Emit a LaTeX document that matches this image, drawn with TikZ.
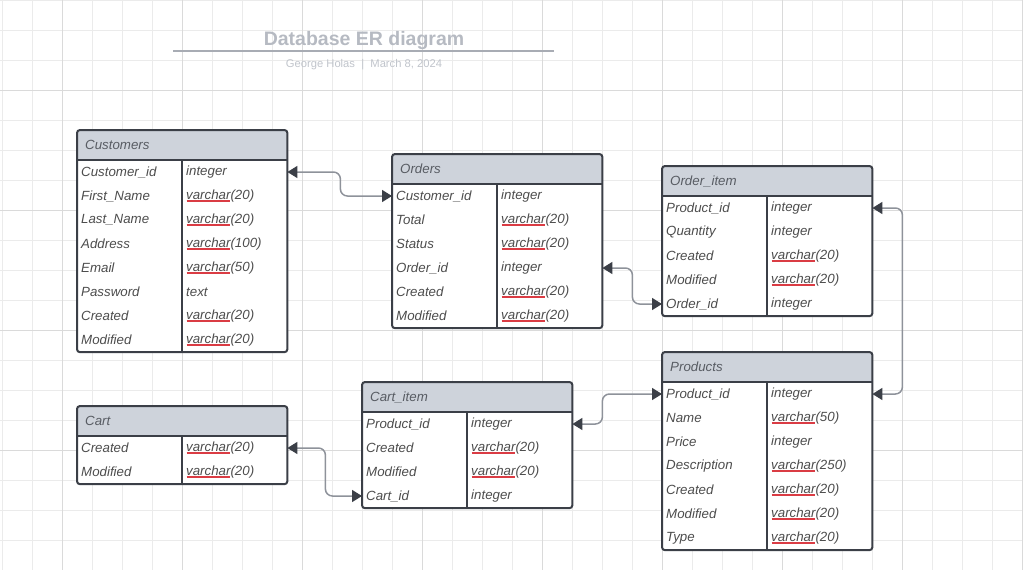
\documentclass[tikz,border=0pt]{standalone}
\usepackage{fontspec}
\setmainfont{Liberation Sans}
\usepackage{tikz}
\usetikzlibrary{arrows.meta,fit}

\definecolor{gridminor}{HTML}{EBEBEB}
\definecolor{gridmajor}{HTML}{DADADA}
\definecolor{headfill}{HTML}{CED3DB}
\definecolor{edgec}{HTML}{3B3F47}
\definecolor{txtc}{HTML}{4D4D4D}
\definecolor{headtxt}{HTML}{585C63}
\definecolor{linkc}{HTML}{8E929A}
\definecolor{squig}{RGB}{218,60,68}
\definecolor{titlec}{HTML}{B6BAC2}
\definecolor{subc}{HTML}{C0C4CB}
\definecolor{rulec}{HTML}{A8ACB4}

\begin{document}
\begin{tikzpicture}[x=1pt,y=-1pt,
	minor/.style={draw=gridminor,line width=1pt},
	major/.style={draw=gridmajor,line width=1pt},
	head/.style={anchor=north west,fill=headfill,minimum height=30pt,text width=194pt,inner xsep=8pt,inner ysep=0pt,align=left,text=headtxt,font=\fontsize{13.3}{16}\selectfont\itshape},
	field/.style={anchor=west,fill=white,minimum height=24pt,text width=97pt,inner xsep=4pt,inner ysep=0pt,align=left,text=txtc,font=\fontsize{13.3}{16}\selectfont\itshape},
	ftype/.style={field},
	vc/.style={field,path picture={\draw[draw=squig,line width=1.5pt] ([xshift=4.5pt,yshift=-5pt]path picture bounding box.west) -- ++(43.5pt,0pt);}},
	frame/.style={draw=edgec,line width=2pt,rounded corners=3pt,inner sep=0pt},
	edge/.style={draw=edgec,line width=2pt},
	link/.style={draw=linkc,line width=1.5pt,rounded corners=7pt,
		{Triangle[length=10pt,width=12pt,color=edgec]}-{Triangle[length=10pt,width=12pt,color=edgec]}}]

	\useasboundingbox (0,0) rectangle (1023,570);
	\foreach \x in {2,32,...,1022} \draw[minor] (\x,0) -- (\x,570);
	\foreach \y in {0,30,...,570} \draw[minor] (0,\y) -- (1023,\y);
	\foreach \x in {62,182,...,1022} \draw[major] (\x,0) -- (\x,570);
	\foreach \y in {90,210,...,570} \draw[major] (0,\y) -- (1023,\y);

	\node[text=titlec,font=\fontsize{19.5}{22}\selectfont\bfseries] (title) at (364,41) {Database ER diagram};
	\draw[rulec,line width=1.5pt] (173,51) -- (554,51);
	\node[text=subc,font=\fontsize{11.2}{13}\selectfont] (subtitle) at (364,65) {George Holas \ | \ March 8, 2024};

	% Customers
	\node[head] (cust) at (77,130) {Customers};
	\node[field] (cust-r1) at (77,172) {Customer\_id};
	\node[ftype] (cust-t1) at (182,172) {integer};
	\node[field] (cust-r2) at (77,196) {First\_Name};
	\node[vc] (cust-t2) at (182,196) {varchar(20)};
	\node[field] (cust-r3) at (77,220) {Last\_Name};
	\node[vc] (cust-t3) at (182,220) {varchar(20)};
	\node[field] (cust-r4) at (77,244) {Address};
	\node[vc] (cust-t4) at (182,244) {varchar(100)};
	\node[field] (cust-r5) at (77,268) {Email};
	\node[vc] (cust-t5) at (182,268) {varchar(50)};
	\node[field] (cust-r6) at (77,292) {Password};
	\node[ftype] (cust-t6) at (182,292) {text};
	\node[field] (cust-r7) at (77,316) {Created};
	\node[vc] (cust-t7) at (182,316) {varchar(20)};
	\node[field] (cust-r8) at (77,340) {Modified};
	\node[vc] (cust-t8) at (182,340) {varchar(20)};
	\draw[edge] (cust.south west) -- (cust.south east);
	\draw[edge] (cust-r1.north east) -- (cust-r8.south east);
	\node[frame,fit=(cust)(cust-t8)] (cust-box) {};

	% Orders
	\node[head] (ord) at (392,154) {Orders};
	\node[field] (ord-r1) at (392,196) {Customer\_id};
	\node[ftype] (ord-t1) at (497,196) {integer};
	\node[field] (ord-r2) at (392,220) {Total};
	\node[vc] (ord-t2) at (497,220) {varchar(20)};
	\node[field] (ord-r3) at (392,244) {Status};
	\node[vc] (ord-t3) at (497,244) {varchar(20)};
	\node[field] (ord-r4) at (392,268) {Order\_id};
	\node[ftype] (ord-t4) at (497,268) {integer};
	\node[field] (ord-r5) at (392,292) {Created};
	\node[vc] (ord-t5) at (497,292) {varchar(20)};
	\node[field] (ord-r6) at (392,316) {Modified};
	\node[vc] (ord-t6) at (497,316) {varchar(20)};
	\draw[edge] (ord.south west) -- (ord.south east);
	\draw[edge] (ord-r1.north east) -- (ord-r6.south east);
	\node[frame,fit=(ord)(ord-t6)] (ord-box) {};

	% Order_item
	\node[head] (oi) at (662,166) {Order\_item};
	\node[field] (oi-r1) at (662,208) {Product\_id};
	\node[ftype] (oi-t1) at (767,208) {integer};
	\node[field] (oi-r2) at (662,232) {Quantity};
	\node[ftype] (oi-t2) at (767,232) {integer};
	\node[field] (oi-r3) at (662,256) {Created};
	\node[vc] (oi-t3) at (767,256) {varchar(20)};
	\node[field] (oi-r4) at (662,280) {Modified};
	\node[vc] (oi-t4) at (767,280) {varchar(20)};
	\node[field] (oi-r5) at (662,304) {Order\_id};
	\node[ftype] (oi-t5) at (767,304) {integer};
	\draw[edge] (oi.south west) -- (oi.south east);
	\draw[edge] (oi-r1.north east) -- (oi-r5.south east);
	\node[frame,fit=(oi)(oi-t5)] (oi-box) {};

	% Products
	\node[head] (prod) at (662,352) {Products};
	\node[field] (prod-r1) at (662,394) {Product\_id};
	\node[ftype] (prod-t1) at (767,394) {integer};
	\node[field] (prod-r2) at (662,418) {Name};
	\node[vc] (prod-t2) at (767,418) {varchar(50)};
	\node[field] (prod-r3) at (662,442) {Price};
	\node[ftype] (prod-t3) at (767,442) {integer};
	\node[field] (prod-r4) at (662,466) {Description};
	\node[vc] (prod-t4) at (767,466) {varchar(250)};
	\node[field] (prod-r5) at (662,490) {Created};
	\node[vc] (prod-t5) at (767,490) {varchar(20)};
	\node[field] (prod-r6) at (662,514) {Modified};
	\node[vc] (prod-t6) at (767,514) {varchar(20)};
	\node[field] (prod-r7) at (662,538) {Type};
	\node[vc] (prod-t7) at (767,538) {varchar(20)};
	\draw[edge] (prod.south west) -- (prod.south east);
	\draw[edge] (prod-r1.north east) -- (prod-r7.south east);
	\node[frame,fit=(prod)(prod-t7)] (prod-box) {};

	% Cart_item
	\node[head] (ci) at (362,382) {Cart\_item};
	\node[field] (ci-r1) at (362,424) {Product\_id};
	\node[ftype] (ci-t1) at (467,424) {integer};
	\node[field] (ci-r2) at (362,448) {Created};
	\node[vc] (ci-t2) at (467,448) {varchar(20)};
	\node[field] (ci-r3) at (362,472) {Modified};
	\node[vc] (ci-t3) at (467,472) {varchar(20)};
	\node[field] (ci-r4) at (362,496) {Cart\_id};
	\node[ftype] (ci-t4) at (467,496) {integer};
	\draw[edge] (ci.south west) -- (ci.south east);
	\draw[edge] (ci-r1.north east) -- (ci-r4.south east);
	\node[frame,fit=(ci)(ci-t4)] (ci-box) {};

	% Cart
	\node[head] (cart) at (77,406) {Cart};
	\node[field] (cart-r1) at (77,448) {Created};
	\node[vc] (cart-t1) at (182,448) {varchar(20)};
	\node[field] (cart-r2) at (77,472) {Modified};
	\node[vc] (cart-t2) at (182,472) {varchar(20)};
	\draw[edge] (cart.south west) -- (cart.south east);
	\draw[edge] (cart-r1.north east) -- (cart-r2.south east);
	\node[frame,fit=(cart)(cart-t2)] (cart-box) {};

	\draw[link] (cust-t1.east) -- ++(53,0) |- (ord-r1.west);
	\draw[link] (ord-t4.east) -- ++(30,0) |- (oi-r5.west);
	\draw[link] (oi-t1.east) -- ++(30,0) |- (prod-t1.east);
	\draw[link] (ci-t1.east) -- ++(30,0) |- (prod-r1.west);
	\draw[link] (cart-t1.east) -- ++(38,0) |- (ci-r4.west);
\end{tikzpicture}
\end{document}
